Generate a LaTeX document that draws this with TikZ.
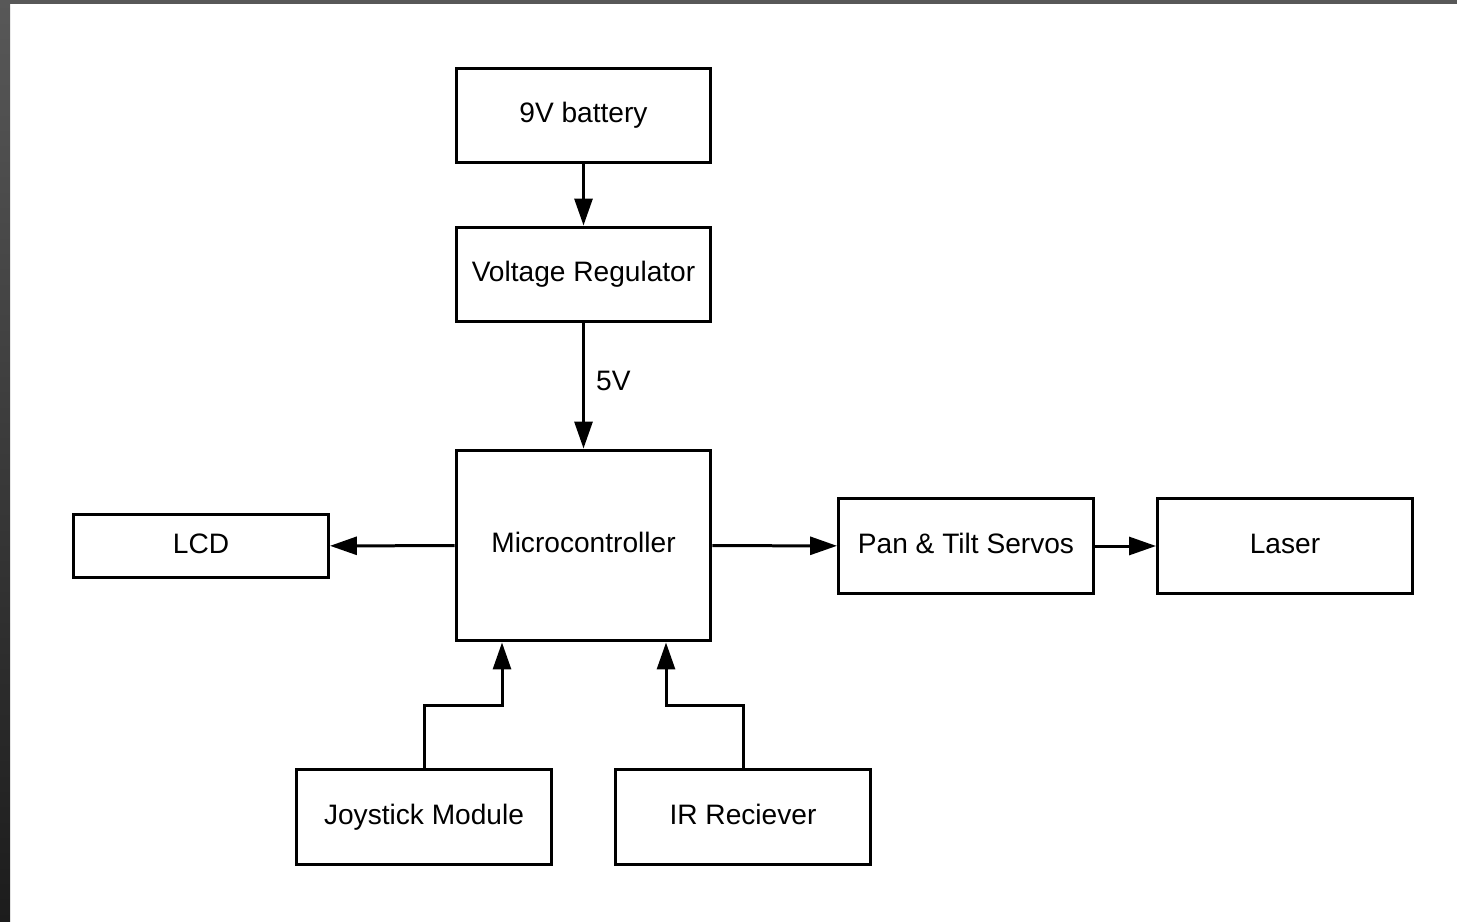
\documentclass[tikz,border=0pt]{standalone}
\usepackage{fontspec}
\setmainfont{Liberation Sans}
\usetikzlibrary{arrows.meta, positioning, calc}
\definecolor{frametop}{RGB}{88, 88, 88}
\definecolor{framebot}{RGB}{28, 28, 28}
\tikzset{
  blockbox/.style={draw=black, line width=0.06cm, minimum width=5.1cm, minimum height=1.9cm, inner sep=0pt, text height=11.6pt, text depth=3.4pt, font=\fontsize{16}{19}\selectfont},
  flowarrow/.style={draw=black, line width=0.06cm, -{Triangle[length=0.54cm, width=0.36cm]}}
}
\begin{document}
\begin{tikzpicture}[x=0.02cm, y=-0.02cm]
  % canvas and dark frame
  \fill[white] (0,0) rectangle (1457,922);
  \useasboundingbox (0,0) rectangle (1457,922);
  \shade[top color=frametop, bottom color=framebot] (0,0) rectangle (10,922);
  \fill[frametop] (10,0) rectangle (1457,4);

  % power chain
  \node[blockbox] (battery) at (583.5,115.5) {9V battery};
  \node[blockbox] (regulator) at (583.5,274.5) {Voltage Regulator};
  \node[blockbox, minimum height=3.82cm] (micro) at (583.5,545.5) {Microcontroller};

  % outputs
  \node[blockbox, minimum height=1.28cm] (lcd) at (201,546) {LCD};
  \node[blockbox] (servos) at (966,546) {Pan \& Tilt Servos};
  \node[blockbox] (laser) at (1285,546) {Laser};

  % inputs
  \node[blockbox] (joystick) at (424,817) {Joystick Module};
  \node[blockbox] (irrecv) at (743,817) {IR Reciever};
  \coordinate (joybend) at (502,705);
  \coordinate (irbend) at (666,705);

  % connectors
  \draw[flowarrow] (battery) -- (regulator);
  \draw[flowarrow] (regulator) -- node[right, xshift=3pt, yshift=3pt, font=\fontsize{16}{19}\selectfont] {5V} (micro);
  \draw[flowarrow] (micro) -- (lcd);
  \draw[flowarrow] (micro) -- (servos);
  \draw[flowarrow] (servos) -- (laser);
  \draw[flowarrow] (joystick.north) |- (joybend) -- (joybend |- micro.south);
  \draw[flowarrow] (irrecv.north) |- (irbend) -- (irbend |- micro.south);
\end{tikzpicture}
\end{document}
